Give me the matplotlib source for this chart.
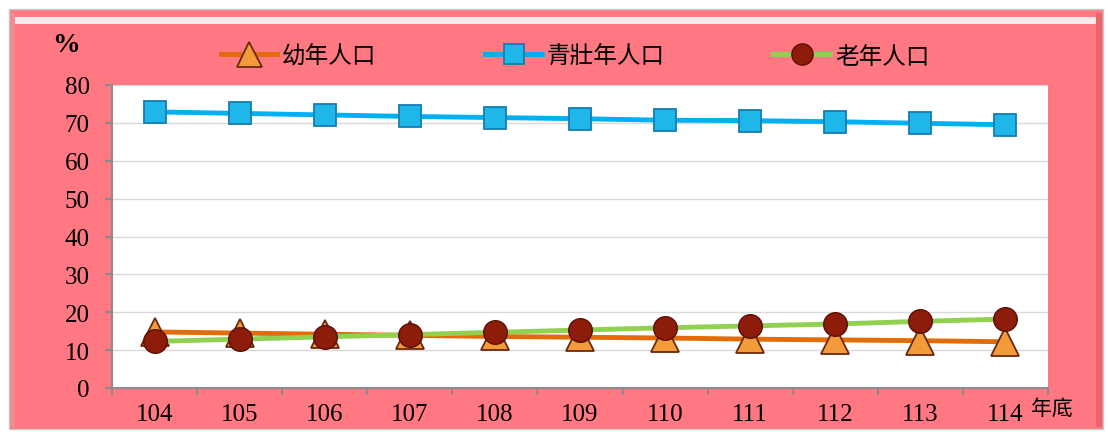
import numpy as np
import matplotlib as mpl
from matplotlib import pyplot as plt
from matplotlib.patches import Rectangle

# data
years = ['104', '105', '106', '107', '108', '109', '110', '111', '112', '113', '114']
youth = [14.8, 14.5, 14.2, 13.9, 13.6, 13.4, 13.2, 12.9, 12.7, 12.5, 12.2]
working = [72.9, 72.5, 72.1, 71.7, 71.4, 71.1, 70.7, 70.6, 70.3, 69.9, 69.5]
elderly = [12.3, 12.9, 13.5, 14.1, 14.7, 15.3, 15.9, 16.4, 16.9, 17.6, 18.2]
series_names = ['幼年人口', '青壯年人口', '老年人口']

cjk = ['Noto Sans CJK TC', 'DejaVu Sans']
serif = ['Liberation Serif', 'DejaVu Serif']
W, H = 1108, 435

fig = plt.figure(figsize=(W / 100, H / 100), dpi=100)
fig.patch.set_facecolor('white')

# pink bevelled frame (behind the axes)
pink = '#FF7882'
frame = [
    ((9, 430), 1094, 420, pink, '#C8C8C8'),
    ((14, 25), 1084, 7, '#FFE8EA', 'none'),
    ((1096, 428), 6, 414, '#E86670', 'none'),
    ((10, 428), 5, 414, '#F28A92', 'none'),
]
for (fx, fy), fw, fh, fc, ec in frame:
    fig.patches.append(Rectangle((fx / W, 1 - fy / H), fw / W, fh / H, transform=fig.transFigure,
                                 facecolor=fc, edgecolor=ec, lw=1.0, zorder=-5))

ax = fig.add_axes([112 / W, 1 - 389 / H, 936 / W, 303 / H])
ax.set_zorder(1)
ax.set_facecolor('white')
x = np.arange(len(years))

ax.plot(x, youth, color='#E36C09', lw=3.5, marker='^', ms=20, mfc='#F39A3A',
        mec='#6B2A0E', mew=1.3, label=series_names[0], zorder=3)
ax.plot(x, working, color='#00B0F0', lw=3.5, marker='s', ms=16, mfc='#1FB7EA',
        mec='#137DB0', mew=1.3, label=series_names[1], zorder=3)
ax.plot(x, elderly, color='#92D050', lw=3.5, marker='o', ms=17, mfc='#8E1C0A',
        mec='#5A1005', mew=1.0, label=series_names[2], zorder=4)

ax.set_xlim(-0.5, len(years) - 0.5)
ax.set_ylim(0, 80)
ax.set_yticks(np.arange(0, 81, 10))
ax.yaxis.grid(True, color='#D9D9D9', lw=1)
ax.set_axisbelow(True)

ax.set_xticks(x)
ax.set_xticklabels(years, family=serif, fontsize=18)
ax.set_xticks(np.arange(-0.5, len(years) + 0.5, 1), minor=True)
ax.tick_params(axis='x', which='major', length=0, pad=11)
ax.tick_params(axis='x', which='minor', length=5, color='#8C8C8C', width=1.5, direction='out')
ax.tick_params(axis='y', length=5, color='#8C8C8C', width=1.5, labelsize=18, pad=11)
for lab in ax.get_yticklabels():
    lab.set_family(serif)

for side in ['top', 'right']:
    ax.spines[side].set_visible(False)
for side in ['left', 'bottom']:
    ax.spines[side].set_color('#8C8C8C')
    ax.spines[side].set_linewidth(1.5)

fig.text(66 / W, 1 - 45 / H, '%', family=serif, fontsize=20, fontweight='bold',
         ha='center', va='center')
fig.text(1031 / W, 1 - 409 / H, '年底', family=cjk, fontsize=15, ha='left', va='center')

leg = fig.legend(loc='center', bbox_to_anchor=(575 / W, 1 - 57 / H), ncol=3, frameon=False,
                 prop={'family': cjk, 'size': 17}, handlelength=2.4, columnspacing=4.6,
                 handletextpad=0.2, markerscale=0.9)

fig.savefig('out.png', dpi=100, facecolor=fig.get_facecolor())
